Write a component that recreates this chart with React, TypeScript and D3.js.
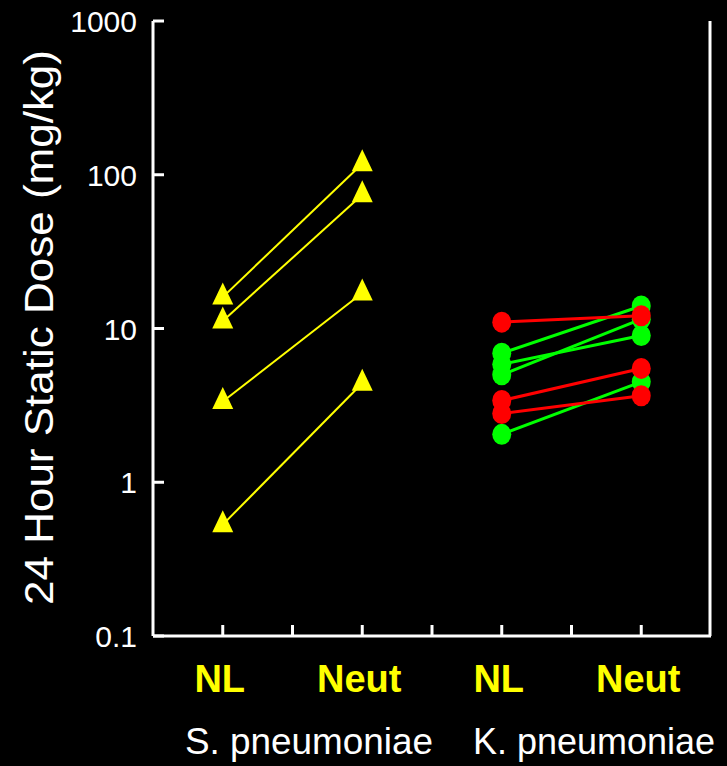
import React from "react";
import * as d3 from "d3";

const groupLabels = ["NL", "Neut", "NL", "Neut"];
const groupPositions = [1, 3, 5, 7];
const speciesLabels = ["S. pneumoniae", "K. pneumoniae"];
const yTickValues = [0.1, 1, 10, 100, 1000];
const yTickLabels = ["0.1", "1", "10", "100", "1000"];
const xTickValues = [1, 2, 3, 4, 5, 6, 7];

const sPneumoniaeNL = [16, 11.2, 3.35, 0.53];
const sPneumoniaeNeut = [118, 74, 17, 4.4];
const kGreenNL = [6.9, 5.85, 5.0, 2.05];
const kGreenNeut = [14, 9.0, 11.5, 4.5];
const kRedNL = [11.0, 3.4, 2.8];
const kRedNeut = [12.1, 5.5, 3.65];

const W = 727;
const H = 766;

export default function App() {
  const x = d3.scaleLinear().domain([0, 8]).range([153, 711]);
  const y = d3.scaleLog().domain([0.1, 1000]).range([636, 21]);
  const line = d3.line<[number, number]>().x((d) => x(d[0])).y((d) => y(d[1]));

  const tri = (cx: number, cy: number) => {
    const p = d3.path();
    p.moveTo(cx, cy - 14.5);
    p.lineTo(cx + 10.5, cy + 7.5);
    p.lineTo(cx - 10.5, cy + 7.5);
    p.closePath();
    return p.toString();
  };

  const pairs = (a: number[], b: number[], xa: number, xb: number) =>
    a.map((v, i) => [[xa, v], [xb, b[i]]] as [number, number][]);

  const sPairs = pairs(sPneumoniaeNL, sPneumoniaeNeut, groupPositions[0], groupPositions[1]);
  const gPairs = pairs(kGreenNL, kGreenNeut, groupPositions[2], groupPositions[3]);
  const rPairs = pairs(kRedNL, kRedNeut, groupPositions[2], groupPositions[3]);

  const font = "'Liberation Sans', Arial, sans-serif";

  return (
    <svg
      width={W}
      height={H}
      style={{ position: "absolute", left: 0, top: 0, background: "#000" }}
    >
      <rect x={0} y={0} width={W} height={H} fill="#000" />
      {/* axes */}
      <g stroke="#fff" strokeWidth={3} fill="none">
        <line x1={x(0)} x2={x(0)} y1={y(1000)} y2={y(0.1)} />
        <line x1={x(0)} x2={x(8)} y1={y(0.1)} y2={y(0.1)} />
        <line x1={x(8) - 1} x2={x(8) - 1} y1={y(1000)} y2={y(0.1)} />
        {yTickValues.map((v) => (
          <line key={"yt" + v} x1={x(0)} x2={x(0) + 11} y1={y(v)} y2={y(v)} />
        ))}
        {xTickValues.map((v) => (
          <line key={"xt" + v} x1={x(v)} x2={x(v)} y1={y(0.1)} y2={y(0.1) - 11} />
        ))}
      </g>
      {yTickValues.map((v, i) => (
        <text
          key={"yl" + v}
          x={137}
          y={y(v) + 11}
          fill="#fff"
          fontFamily={font}
          fontSize={30}
          textAnchor="end"
        >
          {yTickLabels[i]}
        </text>
      ))}
      <text
        transform={`translate(53, ${(50 + 605) / 2}) rotate(-90)`}
        fill="#fff"
        fontFamily={font}
        fontSize={40}
        textAnchor="middle"
        textLength={555}
        lengthAdjust="spacingAndGlyphs"
      >
        24 Hour Static Dose (mg/kg)
      </text>
      {groupLabels.map((g, i) => (
        <text
          key={"g" + i}
          x={x(groupPositions[i]) - 3}
          y={692}
          fill="#ffff00"
          fontFamily={font}
          fontWeight="bold"
          fontSize={38}
          textAnchor="middle"
        >
          {g}
        </text>
      ))}
      <text
        x={309}
        y={754}
        fill="#fff"
        fontFamily={font}
        fontSize={36}
        textAnchor="middle"
        textLength={248}
        lengthAdjust="spacingAndGlyphs"
      >
        {speciesLabels[0]}
      </text>
      <text
        x={594}
        y={754}
        fill="#fff"
        fontFamily={font}
        fontSize={36}
        textAnchor="middle"
        textLength={242}
        lengthAdjust="spacingAndGlyphs"
      >
        {speciesLabels[1]}
      </text>

      {/* S. pneumoniae */}
      {sPairs.map((p, i) => (
        <path key={"sl" + i} d={line(p) || ""} stroke="#ffff00" strokeWidth={2} fill="none" />
      ))}
      {sPairs.flat().map((d, i) => (
        <path key={"st" + i} d={tri(x(d[0]), y(d[1]))} fill="#ffff00" />
      ))}

      {/* K. pneumoniae green */}
      {gPairs.map((p, i) => (
        <path key={"gl" + i} d={line(p) || ""} stroke="#00ff00" strokeWidth={3} fill="none" />
      ))}
      {gPairs.flat().map((d, i) => (
        <ellipse key={"gc" + i} cx={x(d[0])} cy={y(d[1])} rx={9.5} ry={10.5} fill="#00ff00" />
      ))}

      {/* K. pneumoniae red */}
      {rPairs.map((p, i) => (
        <path key={"rl" + i} d={line(p) || ""} stroke="#ff0000" strokeWidth={3} fill="none" />
      ))}
      {rPairs.flat().map((d, i) => (
        <ellipse key={"rc" + i} cx={x(d[0])} cy={y(d[1])} rx={9.5} ry={10.5} fill="#ff0000" />
      ))}
    </svg>
  );
}
